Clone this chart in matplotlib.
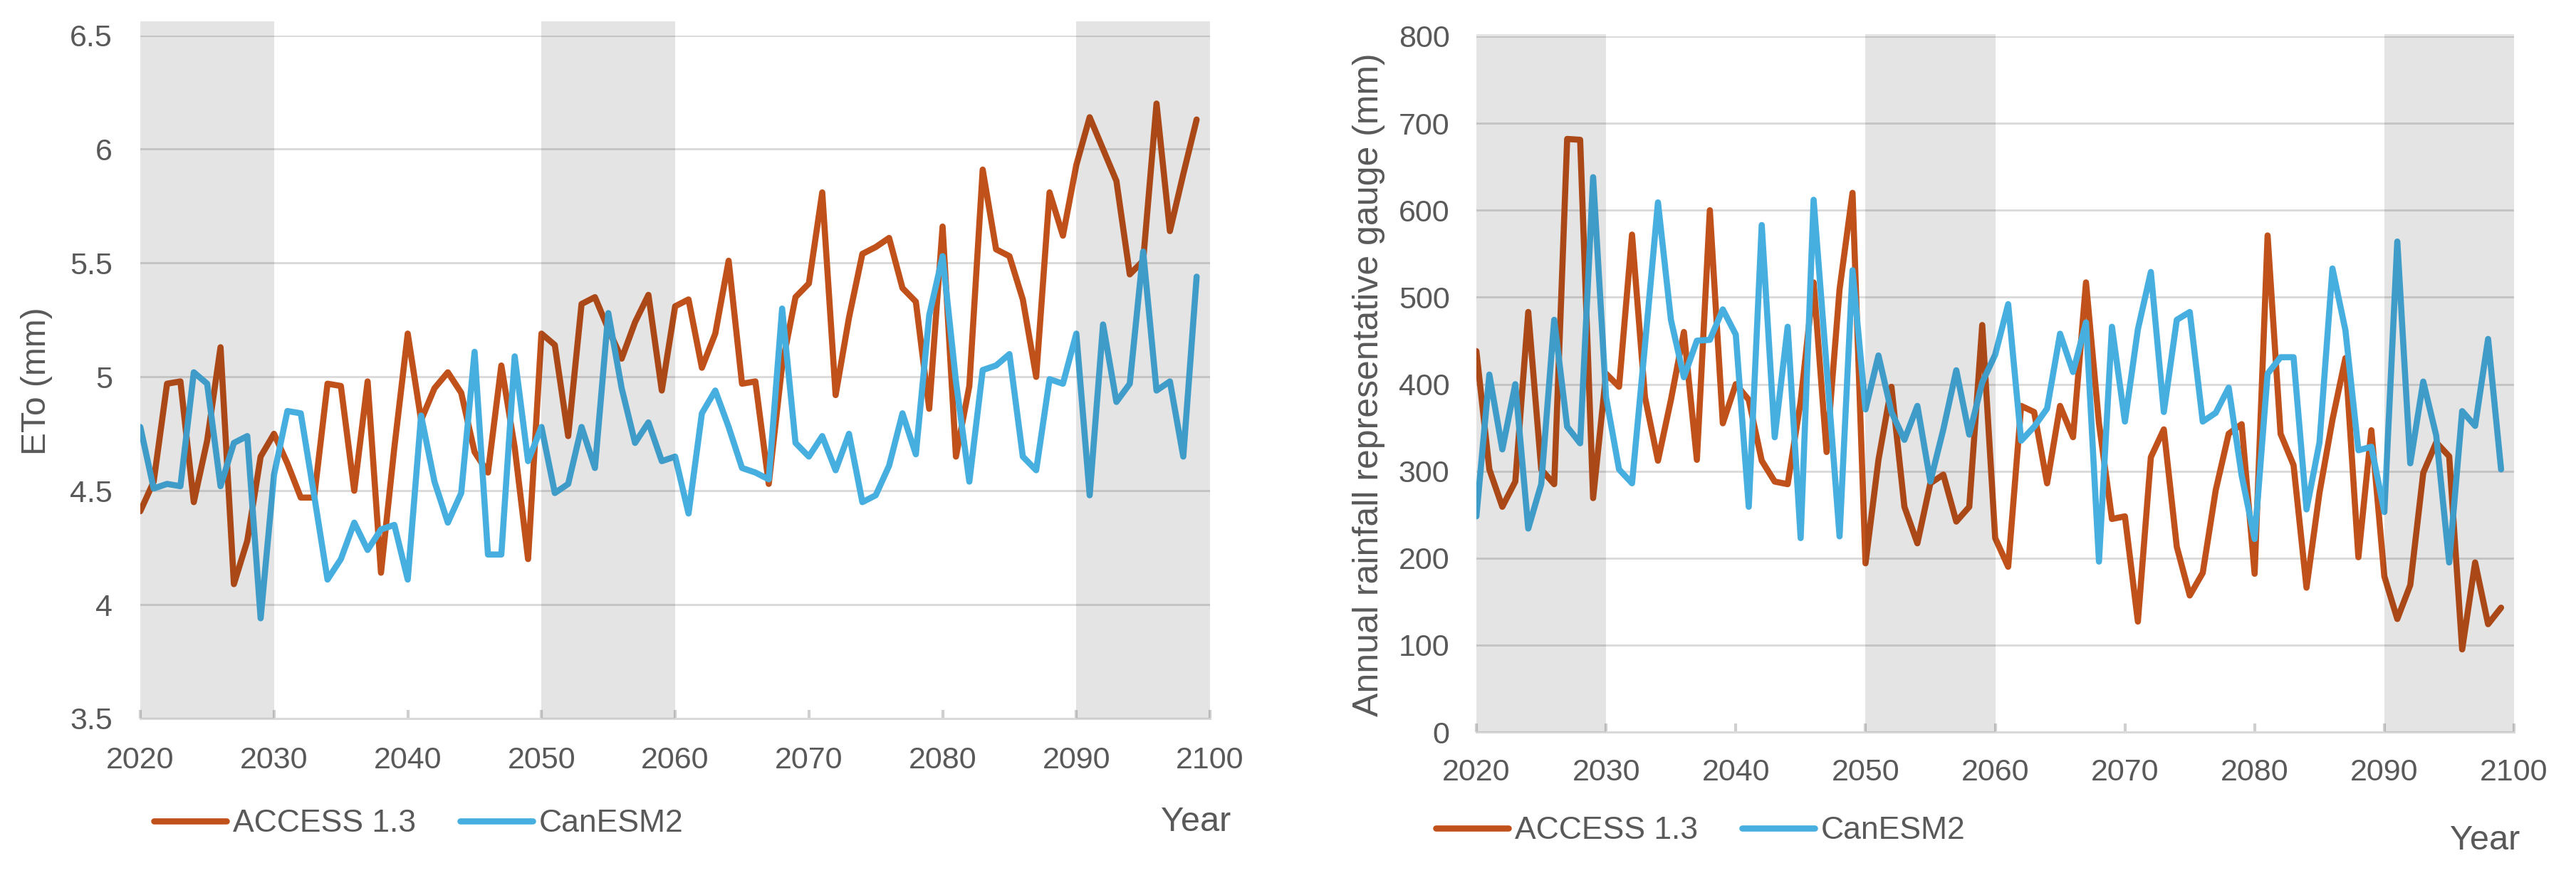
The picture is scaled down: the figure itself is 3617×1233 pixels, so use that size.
import matplotlib
matplotlib.use('Agg')
import matplotlib.pyplot as plt

# ---------------- data ----------------
years = list(range(2020, 2100))

eto_access = [4.41, 4.54, 4.97, 4.98, 4.45, 4.72, 5.13, 4.09, 4.28, 4.65,
              4.75, 4.62, 4.47, 4.47, 4.97, 4.96, 4.50, 4.98, 4.14, 4.69,
              5.19, 4.81, 4.95, 5.02, 4.93, 4.67, 4.58, 5.05, 4.69, 4.20,
              5.19, 5.14, 4.74, 5.32, 5.35, 5.21, 5.08, 5.24, 5.36, 4.94,
              5.31, 5.34, 5.04, 5.19, 5.51, 4.97, 4.98, 4.53, 5.05, 5.35,
              5.41, 5.81, 4.92, 5.26, 5.54, 5.57, 5.61, 5.39, 5.33, 4.86,
              5.66, 4.65, 4.96, 5.91, 5.56, 5.53, 5.34, 5.00, 5.81, 5.62,
              5.93, 6.14, 6.00, 5.86, 5.45, 5.51, 6.20, 5.64, 5.89, 6.13]

eto_canesm = [4.78, 4.51, 4.53, 4.52, 5.02, 4.97, 4.52, 4.71, 4.74, 3.94,
              4.57, 4.85, 4.84, 4.48, 4.11, 4.20, 4.36, 4.24, 4.33, 4.35,
              4.11, 4.83, 4.54, 4.36, 4.49, 5.11, 4.22, 4.22, 5.09, 4.63,
              4.78, 4.49, 4.53, 4.78, 4.60, 5.28, 4.95, 4.71, 4.80, 4.63,
              4.65, 4.40, 4.84, 4.94, 4.78, 4.60, 4.58, 4.55, 5.30, 4.71,
              4.65, 4.74, 4.59, 4.75, 4.45, 4.48, 4.61, 4.84, 4.66, 5.27,
              5.53, 4.98, 4.54, 5.03, 5.05, 5.10, 4.65, 4.59, 4.99, 4.97,
              5.19, 4.48, 5.23, 4.89, 4.97, 5.55, 4.94, 4.98, 4.65, 5.44]

rain_access = [438, 302, 259, 288, 483, 302, 285, 682, 681, 269,
               412, 397, 572, 385, 312, 382, 460, 313, 600, 355,
               400, 382, 312, 288, 285, 380, 517, 322, 509, 620,
               194, 313, 397, 259, 217, 286, 296, 242, 259, 468,
               223, 190, 375, 368, 286, 375, 339, 517, 355, 245,
               248, 127, 316, 348, 213, 157, 183, 278, 343, 354,
               182, 571, 343, 307, 166, 275, 359, 430, 201, 347,
               179, 130, 169, 298, 333, 317, 95, 195, 124, 143]

rain_canesm = [248, 411, 325, 400, 234, 285, 474, 351, 332, 638,
               385, 302, 286, 445, 609, 474, 408, 450, 451, 486,
               457, 259, 583, 339, 466, 223, 612, 420, 225, 531,
               371, 433, 368, 336, 375, 288, 348, 416, 342, 402,
               434, 492, 335, 351, 372, 458, 414, 471, 196, 466,
               357, 463, 529, 368, 474, 483, 357, 367, 396, 295,
               222, 412, 431, 431, 256, 333, 533, 462, 324, 328,
               253, 564, 309, 403, 341, 195, 369, 352, 452, 302]

series_labels = ['ACCESS 1.3', 'CanESM2']
x_ticks = [2020, 2030, 2040, 2050, 2060, 2070, 2080, 2090, 2100]
eto_yticks = [3.5, 4, 4.5, 5, 5.5, 6, 6.5]
eto_yticklabels = ['3.5', '4', '4.5', '5', '5.5', '6', '6.5']
rain_yticks = [0, 100, 200, 300, 400, 500, 600, 700, 800]
rain_yticklabels = ['0', '100', '200', '300', '400', '500', '600', '700', '800']
bands = [(2020, 2030), (2050, 2060), (2090, 2100)]

# ---------------- style ----------------
ORANGE = '#C0511A'
BLUE = '#47AFE0'
TXT = '#595959'
GRID = '#d9d9d9'
LW = 6.2

plt.rcParams['font.family'] = ['Liberation Sans', 'DejaVu Sans']

W, H = 3617, 1233
fig = plt.figure(figsize=(W / 100, H / 100), dpi=100)


def px_axes(l, t, r, b):
    return fig.add_axes([l / W, 1 - b / H, (r - l) / W, (b - t) / H])


def style(ax, ylim, yticks, yticklabels, band_extra, xpad, ypad):
    ax.set_xlim(2020, 2100)
    ax.set_ylim(*ylim)
    ax.set_xticks(x_ticks)
    ax.set_xticklabels([str(t) for t in x_ticks])
    ax.set_yticks(yticks)
    ax.set_yticklabels(yticklabels)
    ax.grid(axis='y', color=GRID, lw=2.0)
    ax.grid(axis='x', visible=False)
    ax.set_axisbelow(True)
    for s in ['top', 'left', 'right']:
        ax.spines[s].set_visible(False)
    ax.spines['bottom'].set_color(GRID)
    ax.spines['bottom'].set_linewidth(2.2)
    ax.tick_params(axis='x', direction='in', length=9, width=3, color='#cfcfcf',
                   pad=xpad, labelsize=31, labelcolor=TXT)
    ax.tick_params(axis='y', length=0, pad=ypad, labelsize=31, labelcolor=TXT)
    for a, b in bands:
        ax.axvspan(a, b, ymin=0, ymax=1 + band_extra, color='black', alpha=0.105,
                   lw=0, zorder=3, clip_on=False)


# left chart
ax1 = px_axes(197, 49.5, 1699, 1009)
ax1.plot(years, eto_access, color=ORANGE, lw=LW, solid_joinstyle='round',
         solid_capstyle='round', zorder=2, label=series_labels[0])
ax1.plot(years, eto_canesm, color=BLUE, lw=LW, solid_joinstyle='round',
         solid_capstyle='round', zorder=2, label=series_labels[1])
style(ax1, (3.5, 6.5), eto_yticks, eto_yticklabels, 20 / 959.5, 28, 28)

# right chart
ax2 = px_axes(2073, 51, 3530, 1028)
ax2.plot(years, rain_access, color=ORANGE, lw=LW, solid_joinstyle='round',
         solid_capstyle='round', zorder=2, label=series_labels[0])
ax2.plot(years, rain_canesm, color=BLUE, lw=LW, solid_joinstyle='round',
         solid_capstyle='round', zorder=2, label=series_labels[1])
style(ax2, (0, 800), rain_yticks, rain_yticklabels, 3.3 / 977, 26.5, 27)

# axis titles
fig.text(52 / W, 1 - 535 / H, 'ETo (mm)', rotation=90, ha='center', va='center',
         fontsize=34.5, color=TXT)
fig.text(1922 / W, 1 - 540 / H, 'Annual rainfall representative gauge (mm)',
         rotation=90, ha='center', va='center', fontsize=36, color=TXT)
fig.text(1679 / W, 1 - 1167 / H, 'Year', ha='center', va='baseline',
         fontsize=35, color=TXT)
fig.text(3489 / W, 1 - 1193 / H, 'Year', ha='center', va='baseline',
         fontsize=35, color=TXT)

# legends
for ax, (lx, ly) in [(ax1, (216, 1157)), (ax2, (2016, 1167))]:
    h, l = ax.get_legend_handles_labels()
    fig.legend(h, l, loc='center left', bbox_to_anchor=(lx / W, 1 - ly / H),
               bbox_transform=fig.transFigure, ncol=2, frameon=False,
               fontsize=32, handlelength=2.3, handletextpad=0.19,
               columnspacing=1.4, borderpad=0, borderaxespad=0,
               labelcolor=TXT)

fig.savefig('out.png', dpi=100)
